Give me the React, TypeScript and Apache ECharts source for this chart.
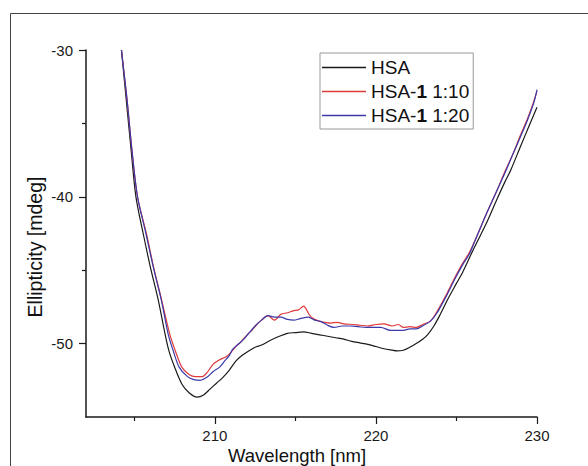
import React, { useEffect, useRef } from "react";
import * as echarts from "echarts";

const seriesNames = ["HSA", "HSA-1 1:10", "HSA-1 1:20"];
const seriesColors = ["#1a1a1a", "#e03a3a", "#3a3aaa"];

const xMajorTicks = [210, 220, 230];
const xMinorTicks = [205, 215, 225];
const yMajorTicks = [-50, -40, -30];
const yMinorTicks = [-45, -35];

const xTitle = "Wavelength [nm]";
const yTitle = "Ellipticity [mdeg]";

const hsa: [number, number][] = [
  [204.2, -30], [204.5, -33.4], [204.8, -36.8], [205.1, -40], [205.55, -42.5],
  [206.0, -44.8], [206.5, -47.1], [206.9, -49.3], [207.15, -50.5], [207.5, -51.6],
  [207.95, -52.75], [208.4, -53.35], [208.9, -53.65], [209.3, -53.5], [209.7, -53.1],
  [210.1, -52.7], [210.5, -52.3], [210.9, -51.8], [211.3, -51.2], [211.7, -50.8],
  [212.1, -50.5], [212.5, -50.25], [212.9, -50.1], [213.4, -49.8], [214.0, -49.5],
  [214.5, -49.3], [215.0, -49.25], [215.5, -49.2], [216.0, -49.3], [216.5, -49.4],
  [217.0, -49.5], [217.5, -49.6], [218.0, -49.7], [218.5, -49.85], [219.0, -49.95],
  [219.5, -50.05], [220.0, -50.2], [220.5, -50.35], [221.0, -50.45], [221.3, -50.5],
  [221.7, -50.45], [222.1, -50.25], [222.5, -50.0], [222.9, -49.7], [223.2, -49.4],
  [223.6, -48.8], [224.0, -48.0], [224.5, -46.9], [225.0, -45.9], [225.4, -45.1],
  [226.0, -43.7], [226.5, -42.6], [226.9, -41.7], [227.5, -40.2], [228.0, -39.0],
  [228.4, -38.1], [229.0, -36.5], [229.5, -35.2], [230.0, -33.9],
];

const hsa110: [number, number][] = [
  [204.2, -30], [204.55, -33.4], [204.85, -36.8], [205.2, -40], [205.75, -42.5],
  [206.2, -44.8], [206.7, -47.05], [207.2, -49.35], [207.55, -50.5], [207.95, -51.6],
  [208.4, -52.1], [208.8, -52.25], [209.2, -52.25], [209.5, -52.0], [209.9, -51.4],
  [210.3, -51.1], [210.7, -50.9], [211.0, -50.6], [211.3, -50.2], [211.6, -49.9],
  [212.0, -49.4], [212.3, -49.1], [212.6, -48.7], [212.9, -48.4], [213.3, -48.1],
  [213.7, -48.4], [214.1, -48.0], [214.5, -47.9], [214.9, -47.75], [215.2, -47.7],
  [215.5, -47.45], [215.9, -48.1], [216.2, -48.35], [216.6, -48.5], [217.2, -48.6],
  [217.6, -48.55], [218.0, -48.65], [218.6, -48.7], [219.0, -48.75], [219.5, -48.8],
  [220.0, -48.7], [220.5, -48.65], [221.0, -48.8], [221.4, -48.7], [221.7, -48.9],
  [222.1, -48.85], [222.5, -48.9], [222.9, -48.7], [223.4, -48.45], [223.8, -47.8],
  [224.4, -46.6], [224.9, -45.5], [225.4, -44.5], [225.8, -43.8], [226.3, -42.6],
  [226.8, -41.3], [227.5, -39.6], [228.0, -38.3], [228.5, -37.1], [228.9, -36.0],
  [229.4, -34.7], [229.8, -33.5], [230.0, -32.8],
];

const hsa120: [number, number][] = [
  [204.2, -30], [204.55, -33.4], [204.85, -36.8], [205.2, -40], [205.72, -42.5],
  [206.18, -44.8], [206.68, -47.05], [207.1, -49.35], [207.42, -50.5], [207.78, -51.6],
  [208.3, -52.25], [208.7, -52.45], [209.1, -52.5], [209.5, -52.3], [209.9, -51.9],
  [210.3, -51.6], [210.6, -51.2], [210.9, -50.8], [211.1, -50.4], [211.4, -50.1],
  [211.8, -49.7], [212.1, -49.3], [212.5, -48.8], [212.9, -48.4], [213.3, -48.1],
  [213.7, -48.2], [214.1, -48.2], [214.5, -48.35], [214.9, -48.4], [215.3, -48.3],
  [215.8, -48.2], [216.2, -48.4], [216.6, -48.5], [217.0, -48.75], [217.4, -48.9],
  [217.9, -48.8], [218.4, -48.8], [218.9, -48.85], [219.4, -48.9], [219.9, -48.9],
  [220.3, -48.9], [220.9, -49.1], [221.3, -49.1], [221.7, -49.1], [222.1, -49.0],
  [222.5, -49.0], [222.9, -48.8], [223.4, -48.45], [223.8, -47.9], [224.4, -46.7],
  [224.9, -45.6], [225.4, -44.6], [225.8, -43.9], [226.3, -42.6], [226.8, -41.3],
  [227.5, -39.6], [228.0, -38.4], [228.5, -37.1], [228.9, -36.1], [229.4, -34.8],
  [229.8, -33.6], [230.0, -32.7],
];

const seriesData = [hsa, hsa110, hsa120];

const FONT = "'Liberation Sans', Arial, sans-serif";

export default function App() {
  const ref = useRef<HTMLDivElement>(null);

  useEffect(() => {
    if (!ref.current) return;
    const chart = echarts.init(ref.current, null, { renderer: "svg" });
    const axisColor = "#1a1a1a";
    const baseX = {
      type: "value" as const,
      min: 202,
      max: 230,
      splitLine: { show: false },
    };
    const baseY = {
      type: "value" as const,
      min: -55,
      max: -30,
      splitLine: { show: false },
    };
    chart.setOption({
      animation: false,
      backgroundColor: "#ffffff",
      textStyle: { fontFamily: FONT },
      grid: { left: 86, top: 50, right: 51, bottom: 49, containLabel: false },
      xAxis: [
        {
          ...baseX,
          axisLine: { show: true, onZero: false, lineStyle: { color: axisColor, width: 1.5 } },
          axisTick: { show: true, length: 7, customValues: xMajorTicks, lineStyle: { color: axisColor, width: 1.2 } },
          axisLabel: { show: true, customValues: xMajorTicks, margin: 11, color: "#1a1a1a", fontSize: 15, fontFamily: FONT },
        },
        {
          ...baseX,
          position: "bottom",
          axisLine: { show: false, onZero: false },
          axisTick: { show: true, length: 4, customValues: xMinorTicks, lineStyle: { color: axisColor, width: 1.2 } },
          axisLabel: { show: false },
        },
      ],
      yAxis: [
        {
          ...baseY,
          axisLine: { show: true, onZero: false, lineStyle: { color: axisColor, width: 1.5 } },
          axisTick: { show: true, length: 7, customValues: yMajorTicks, lineStyle: { color: axisColor, width: 1.2 } },
          axisLabel: { show: true, customValues: yMajorTicks, margin: 13, color: "#1a1a1a", fontSize: 15, fontFamily: FONT },
        },
        {
          ...baseY,
          position: "left",
          axisLine: { show: false, onZero: false },
          axisTick: { show: true, length: 4, customValues: yMinorTicks, lineStyle: { color: axisColor, width: 1.2 } },
          axisLabel: { show: false },
        },
      ],
      legend: {
        orient: "vertical",
        left: 320,
        top: 53,
        data: seriesNames,
        icon: "rect",
        padding: [5, 4, 4, 2],
        itemGap: 5,
        itemWidth: 44,
        itemHeight: 1.5,
        borderColor: "#999999",
        borderWidth: 1,
        borderRadius: 0,
        backgroundColor: "#ffffff",
        formatter: (name: string) => {
          if (name === "HSA") return "{n|HSA}";
          const ratio = name.split(" ")[1];
          return "{n|HSA-}{b|1}{n| " + ratio + "}";
        },
        textStyle: {
          fontFamily: FONT,
          fontSize: 19,
          color: "#111",
          rich: {
            n: { fontFamily: FONT, fontSize: 19, color: "#111" },
            b: { fontFamily: FONT, fontSize: 19, fontWeight: "bold", color: "#111" },
          },
        },
      },
      graphic: [
        {
          type: "rect",
          shape: { x: 10.5, y: 13.5, width: 700, height: 600 },
          style: { fill: "none", stroke: "#444", lineWidth: 1 },
          silent: true,
        },
        {
          type: "text",
          x: 297,
          y: 455,
          style: {
            text: xTitle,
            font: "18.5px " + FONT,
            fill: "#111",
            textAlign: "center",
            textVerticalAlign: "middle",
          },
        },
        {
          type: "text",
          x: 35,
          y: 247,
          rotation: Math.PI / 2,
          style: {
            text: yTitle,
            font: "19.5px " + FONT,
            fill: "#111",
            textAlign: "center",
            textVerticalAlign: "middle",
          },
        },
      ],
      series: seriesData.map((d, i) => ({
        name: seriesNames[i],
        type: "line",
        data: d,
        xAxisIndex: 0,
        yAxisIndex: 0,
        showSymbol: false,
        symbol: "none",
        smooth: 0.3,
        lineStyle: { color: seriesColors[i], width: 1.2 },
        itemStyle: { color: seriesColors[i] },
        z: 2 + i,
      })),
    });
    return () => chart.dispose();
  }, []);

  return (
    <div
      ref={ref}
      style={{ position: "absolute", left: 0, top: 0, width: 588, height: 466, background: "#fff" }}
    />
  );
}
